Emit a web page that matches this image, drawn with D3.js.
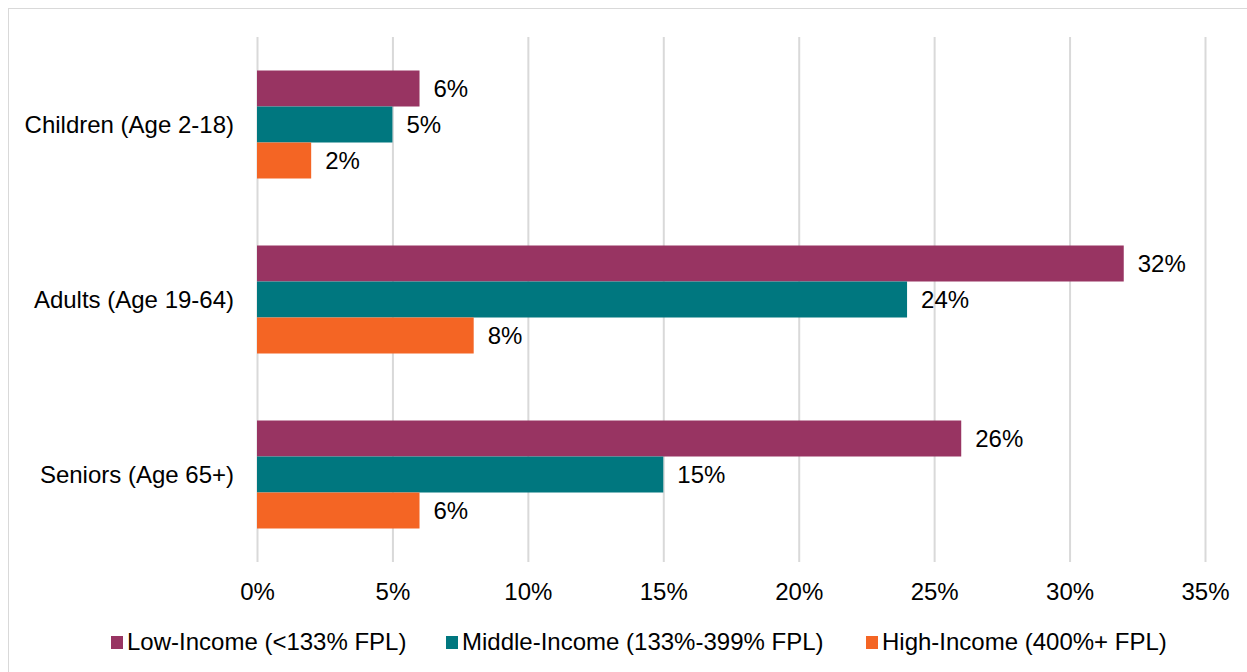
<!DOCTYPE html>
<html><head><meta charset="utf-8">
<script src="https://cdn.jsdelivr.net/npm/d3@7"></script>
<style>body{margin:0;background:#fff;font-family:"Liberation Sans",Arial,sans-serif;}</style>
</head><body>
<svg id="c" width="1247" height="672"></svg>
<script>
const categories = ["Children (Age 2-18)", "Adults (Age 19-64)", "Seniors (Age 65+)"];
const seriesNames = ["Low-Income (<133% FPL)", "Middle-Income (133%-399% FPL)", "High-Income (400%+ FPL)"];
const lowIncome = [6, 32, 26];
const middleIncome = [5, 24, 15];
const highIncome = [2, 8, 6];
const tickValues = [0, 5, 10, 15, 20, 25, 30, 35];
const colors = ["#983462", "#00777F", "#F46524"];

const series = [lowIncome, middleIncome, highIncome];
const FONT = '"Liberation Sans",Arial,sans-serif';
const svg = d3.select("#c").attr("font-family", FONT);
svg.append("rect").attr("x", 8.5).attr("y", 8.5).attr("width", 1250).attr("height", 680)
  .attr("fill", "#fff").attr("stroke", "#d9d9d9").attr("stroke-width", 1);

const x = d3.scaleLinear().domain([0, 35]).range([257, 1205]);
const y = d3.scaleBand().domain(categories).range([37, 562]).paddingInner(0).paddingOuter(0);
const groupH = 108;
const inner = d3.scaleBand().domain(d3.range(3)).range([0, groupH]);

const g = svg.append("g");
g.selectAll("line.grid").data(tickValues).join("line").attr("class", "grid")
  .attr("x1", d => x(d) + 0.5).attr("x2", d => x(d) + 0.5)
  .attr("y1", 37).attr("y2", 562).attr("stroke", "#d9d9d9").attr("stroke-width", 2);

categories.forEach((c, ci) => {
  const top = y(c) + (y.bandwidth() - groupH) / 2;
  series.forEach((s, si) => {
    const by = top + inner(si);
    g.append("rect").attr("x", x(0)).attr("y", by).attr("width", x(s[ci]) - x(0))
      .attr("height", inner.bandwidth()).attr("fill", colors[si]);
    g.append("text").attr("x", x(s[ci]) + 14).attr("y", by + inner.bandwidth() / 2)
      .attr("dy", "0.35em").attr("font-size", 24).attr("fill", "#000").text(s[ci] + "%");
  });
  g.append("text").attr("x", 234).attr("y", y(c) + y.bandwidth() / 2).attr("dy", "0.35em")
    .attr("text-anchor", "end").attr("font-size", 24).attr("fill", "#000").text(c);
});

const xAxis = d3.axisBottom(x).tickValues(tickValues).tickFormat(d => d + "%").tickSize(0).tickPadding(0);
const ax = svg.append("g").attr("transform", "translate(0,600)").call(xAxis);
ax.select(".domain").remove();
ax.selectAll("text").attr("font-size", 24).attr("fill", "#000").attr("dy", "0").attr("y", 0)
  .attr("font-family", FONT);

const legX = [111, 446, 866];
const leg = svg.append("g");
seriesNames.forEach((n, i) => {
  leg.append("rect").attr("x", legX[i]).attr("y", 636).attr("width", 12).attr("height", 13).attr("fill", colors[i]);
  leg.append("text").attr("x", legX[i] + 16).attr("y", 650)
    .attr("font-size", 24).attr("fill", "#000").text(n);
});
</script>
</body></html>
